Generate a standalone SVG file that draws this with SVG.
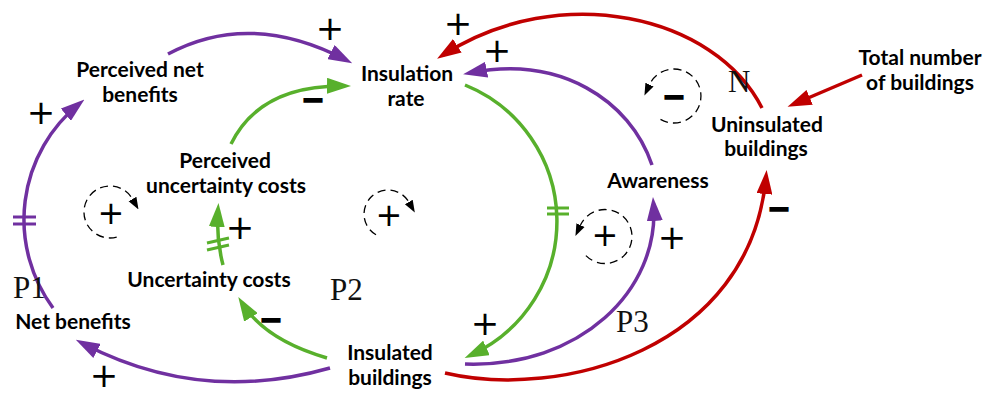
<svg xmlns="http://www.w3.org/2000/svg" width="984" height="394" viewBox="0 0 984 394">
<style>
.n{font-family:Lato,"Liberation Sans",sans-serif;font-weight:bold;font-size:21px;fill:#000;text-anchor:middle}
.s{font-family:"Liberation Serif",serif;font-size:31px;fill:#111}
.pm{font-family:"DejaVu Sans",sans-serif;font-size:34px;fill:#000;text-anchor:middle}
.pl{font-family:"DejaVu Sans",sans-serif;font-size:32px;fill:#000;text-anchor:middle}
.mn{font-family:"DejaVu Sans",sans-serif;font-weight:bold;font-size:28px;fill:#000;stroke:#000;stroke-width:1.6;text-anchor:middle}
.c{fill:none;stroke-width:3.5}
.pu{stroke:#7030A0;marker-end:url(#ap)}
.gr{stroke:#58B02C;marker-end:url(#ag)}
.rd{stroke:#C00000;marker-end:url(#ar)}
.hp{stroke:#7030A0;stroke-width:3}
.hg{stroke:#58B02C;stroke-width:3}
.lp{fill:none;stroke:#000;stroke-width:1.3;stroke-dasharray:8 5;marker-end:url(#la)}
</style>
<defs>
<marker id="ap" viewBox="0 0 24 16" refX="17" refY="8" markerWidth="24" markerHeight="16" markerUnits="userSpaceOnUse" orient="auto"><path d="M0,0 L24,8 L0,16 z" fill="#7030A0"/></marker>
<marker id="ag" viewBox="0 0 24 16" refX="17" refY="8" markerWidth="24" markerHeight="16" markerUnits="userSpaceOnUse" orient="auto"><path d="M0,0 L24,8 L0,16 z" fill="#58B02C"/></marker>
<marker id="ar" viewBox="0 0 24 16" refX="17" refY="8" markerWidth="24" markerHeight="16" markerUnits="userSpaceOnUse" orient="auto"><path d="M0,0 L24,8 L0,16 z" fill="#C00000"/></marker>
<marker id="la" viewBox="0 -5 12 10" refX="0" refY="0" markerWidth="12" markerHeight="10" markerUnits="userSpaceOnUse" orient="auto"><path d="M0,-4.5 L12,0 L0,4.5 z" fill="#000"/></marker>
</defs>
<rect width="984" height="394" fill="#fff"/>
<g id="connectors">
<path class="c pu" d="M168,54 Q250,10 346,60"/>
<path class="c gr" d="M231,144 Q260,85 344,86"/>
<path class="c pu" d="M53,308 A149,149 0 0 1 79,104"/>
<path class="c gr" d="M223,265 Q216,238 218,210"/>
<path class="c gr" d="M327,358 Q265,340 242,303"/>
<path class="c pu" d="M330,368 Q200,405 82,343"/>
<path class="c gr" d="M465,85 A147,147 0 0 1 471,355"/>
<path class="c pu" d="M465,364 C580,368 660,290 653.5,204"/>
<path class="c pu" d="M652,165 C630,100 560,55 470,73"/>
<path class="c rd" d="M762,108 C715,15 560,-20 443,55"/>
<path class="c rd" d="M445,373 C560,400 750,350 766,177"/>
<path class="c rd" d="M862,75 L794,104"/>
<line class="hp" x1="13" y1="217" x2="36" y2="217"/>
<line class="hp" x1="13" y1="224" x2="36" y2="224"/>
<line class="hg" x1="207" y1="243" x2="229" y2="238"/>
<line class="hg" x1="207" y1="250" x2="229" y2="245"/>
<line class="hg" x1="547" y1="208" x2="569" y2="208"/>
<line class="hg" x1="547" y1="214" x2="569" y2="214"/>
</g>
<g id="polarities">
<text class="pm" x="330" y="40">+</text>
<text class="pm" x="458" y="35">+</text>
<text class="pm" x="497" y="62">+</text>
<text class="pm" x="41" y="124">+</text>
<text class="pm" x="240" y="239">+</text>
<text class="pm" x="672" y="249">+</text>
<text class="pm" x="485" y="335">+</text>
<text class="pm" x="104" y="387">+</text>
<text class="mn" x="313" y="109">−</text>
<text class="mn" x="271" y="329">−</text>
<text class="mn" x="779" y="218">−</text>
</g>
<g id="loops">
<g id="loop-P1"><path class="lp" d="M116.7,237.1 A26,26 0 1 1 132.5,199"/><text class="pl" x="111" y="224">+</text></g>
<g id="loop-P2"><path class="lp" d="M376,234.8 A24,24 0 1 1 408.8,202"/><text class="pl" x="389" y="226">+</text></g>
<g id="loop-P3"><path class="lp" d="M585.9,255.6 A27,27 0 1 0 580.5,225.1"/><text class="pl" x="605" y="246">+</text></g>
<g id="loop-N"><path class="lp" d="M660.5,119.4 A27,27 0 1 0 649.5,84.6"/><text class="mn" x="674" y="106">−</text></g>
</g>
<g id="loop-labels">
<text class="s" x="13" y="298">P1</text>
<text class="s" x="330" y="300">P2</text>
<text class="s" x="616" y="332">P3</text>
<text class="s" x="728" y="92">N</text>
</g>
<g id="node-perceived-net-benefits"><text class="n" x="140" y="77">Perceived net</text><text class="n" x="140" y="102">benefits</text></g>
<g id="node-insulation-rate"><text class="n" x="407" y="81">Insulation</text><text class="n" x="406" y="106">rate</text></g>
<g id="node-perceived-uncertainty-costs"><text class="n" x="225" y="168">Perceived</text><text class="n" x="226" y="193">uncertainty costs</text></g>
<g id="node-uncertainty-costs"><text class="n" x="209" y="287">Uncertainty costs</text></g>
<g id="node-net-benefits"><text class="n" x="73" y="329">Net benefits</text></g>
<g id="node-insulated-buildings"><text class="n" x="390" y="360">Insulated</text><text class="n" x="390" y="385">buildings</text></g>
<g id="node-awareness"><text class="n" x="658" y="188">Awareness</text></g>
<g id="node-uninsulated-buildings"><text class="n" x="767" y="132">Uninsulated</text><text class="n" x="766" y="156">buildings</text></g>
<g id="node-total-number"><text class="n" x="920" y="65">Total number</text><text class="n" x="920" y="90">of buildings</text></g>
</svg>
